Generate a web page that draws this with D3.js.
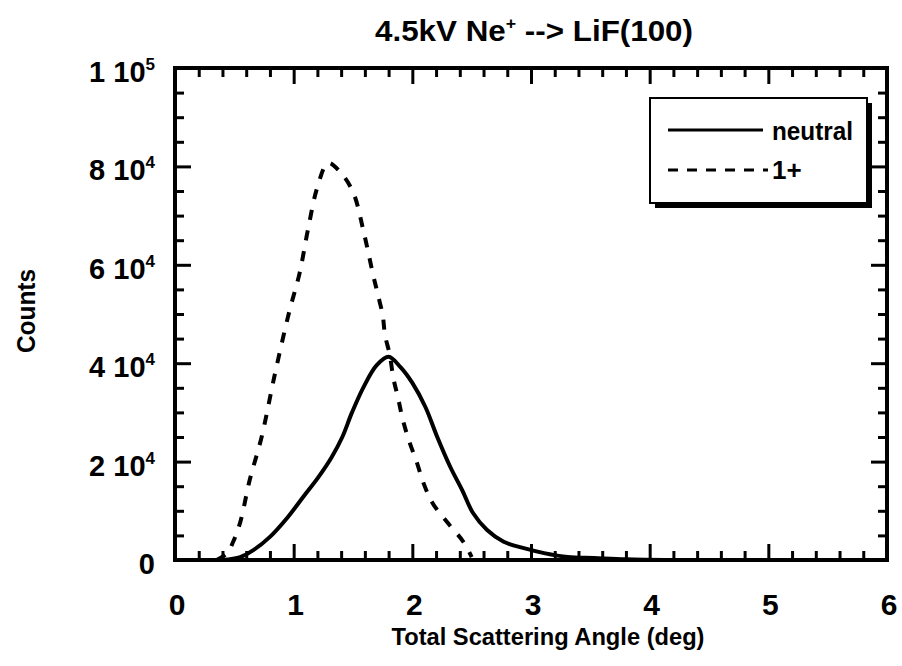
<!DOCTYPE html>
<html>
<head>
<meta charset="utf-8">
<script src="https://cdn.jsdelivr.net/npm/d3@7"></script>
<style>
  html, body { margin: 0; padding: 0; background: #fff; }
  svg { display: block; }
  text { font-family: "Liberation Sans Narrow", "Liberation Sans", Arial, sans-serif; font-weight: bold; fill: #000; }
</style>
</head>
<body>
<svg id="chart" width="902" height="666"></svg>
<script>
// Total scattering angle (deg) vs counts, 4.5 kV Ne+ on LiF(100)
const neutralAngle = [0.40, 0.55, 0.66, 0.80, 0.95, 1.08, 1.21, 1.32, 1.41, 1.49, 1.59, 1.70, 1.80,
                      1.90, 2.00, 2.11, 2.21, 2.32, 2.42, 2.51, 2.63, 2.77, 2.94, 3.11, 3.31, 3.53, 3.80, 4.20];
const neutralCounts = [0, 600, 2000, 4700, 8700, 12800, 16900, 20900, 25000, 29900, 35200, 39600, 41300,
                       39200, 36000, 31100, 25000, 18900, 14200, 9600, 6100, 3700, 2400, 1400, 600, 400, 150, 0];

const ionAngle = [0.35, 0.44, 0.49, 0.55, 0.63, 0.73, 0.84, 0.96, 1.05, 1.12, 1.20, 1.29, 1.39, 1.50,
                  1.59, 1.67, 1.71, 1.75, 1.77, 1.81, 1.84, 1.88, 1.92, 1.97, 2.04, 2.09, 2.17, 2.30, 2.43, 2.50];
const ionCounts = [0, 1400, 3700, 7700, 16300, 25000, 37600, 50200, 58300, 67100, 75800, 80700, 78900, 74800,
                   66700, 57900, 53900, 49800, 45700, 41700, 37000, 32900, 28500, 24400, 19700, 15900, 11600, 7500, 3700, 600];

const xTicks = [0, 1, 2, 3, 4, 5, 6];
const yTicks = [0, 20000, 40000, 60000, 80000, 100000];
const yTickMantissa = ["0", "2 10", "4 10", "6 10", "8 10", "1 10"];
const yTickExponent = ["", "4", "4", "4", "4", "5"];

const seriesNames = ["neutral", "1+"];
const titleMain = "4.5kV Ne";
const titleSup = "+";
const titleRest = " --> LiF(100)";
const xTitle = "Total Scattering Angle (deg)";
const yTitle = "Counts";

const svg = d3.select("#chart");
const plotLeft = 175, plotRight = 887, plotTop = 68, plotBottom = 560;

const x = d3.scaleLinear().domain([0, 6]).range([plotLeft, plotRight]);
const y = d3.scaleLinear().domain([0, 100000]).range([plotBottom, plotTop]);

const minorX = d3.range(0, 6.0001, 0.2).filter(v => Math.abs(v - Math.round(v)) > 1e-6);
const minorY = d3.range(0, 100001, 5000).filter(v => v % 20000 !== 0);

const majorLen = 16, minorLen = 9;

function styleAxis(g) {
  g.select(".domain").remove();
  g.selectAll(".tick line").attr("stroke", "#000").attr("stroke-width", 3);
  g.selectAll(".tick text").remove();
}

// inward ticks on all four sides
[[d3.axisBottom, x, plotBottom, minorX, xTicks, "x"],
 [d3.axisTop, x, plotTop, minorX, xTicks, "x"],
 [d3.axisLeft, y, plotLeft, minorY, yTicks, "y"],
 [d3.axisRight, y, plotRight, minorY, yTicks, "y"]].forEach(([fn, sc, pos, minor, major, dim]) => {
  const tr = dim === "x" ? `translate(0,${pos})` : `translate(${pos},0)`;
  svg.append("g").attr("transform", tr)
    .call(fn(sc).tickValues(minor).tickSize(-minorLen).tickFormat(""))
    .call(styleAxis);
  svg.append("g").attr("transform", tr)
    .call(fn(sc).tickValues(major).tickSize(-majorLen).tickFormat(""))
    .call(styleAxis);
});

// frame
svg.append("rect")
  .attr("x", plotLeft).attr("y", plotTop)
  .attr("width", plotRight - plotLeft).attr("height", plotBottom - plotTop)
  .attr("fill", "none").attr("stroke", "#000").attr("stroke-width", 4);

// curves
const line = d3.line().x(d => x(d[0])).y(d => y(Math.max(0, d[1])))
  .curve(d3.curveCatmullRom.alpha(0.5));
const neutralData = neutralAngle.map((a, i) => [a, neutralCounts[i]]);
const ionData = ionAngle.map((a, i) => [a, ionCounts[i]]);

svg.append("path").datum(neutralData).attr("d", line)
  .attr("fill", "none").attr("stroke", "#000").attr("stroke-width", 4)
  .attr("stroke-linejoin", "round");
svg.append("path").datum(ionData).attr("d", line)
  .attr("fill", "none").attr("stroke", "#000").attr("stroke-width", 4)
  .attr("stroke-dasharray", "10,11");

// x tick labels
svg.append("g").selectAll("text").data(xTicks).join("text")
  .attr("x", d => x(d) + 2).attr("y", 615)
  .attr("text-anchor", "middle").attr("font-size", 30)
  .text(d => d);

// y tick labels with powers of ten
const yl = svg.append("g").selectAll("text").data(yTicks).join("text")
  .attr("x", 155).attr("y", d => y(d) + 14)
  .attr("text-anchor", "end").attr("font-size", 29);
yl.append("tspan").text((d, i) => yTickMantissa[i]);
yl.append("tspan").attr("dy", -12).attr("font-size", 17).text((d, i) => yTickExponent[i]);

// title
const t = svg.append("text").attr("x", 534).attr("y", 41)
  .attr("text-anchor", "middle").attr("font-size", 30)
  .attr("textLength", 318).attr("lengthAdjust", "spacingAndGlyphs");
t.append("tspan").text(titleMain);
t.append("tspan").attr("dy", -12).attr("font-size", 17).text(titleSup);
t.append("tspan").attr("dy", 12).text(titleRest);

// axis titles
svg.append("text").attr("x", 548).attr("y", 645)
  .attr("text-anchor", "middle").attr("font-size", 24)
  .attr("textLength", 313).attr("lengthAdjust", "spacingAndGlyphs")
  .text(xTitle);
svg.append("text").attr("transform", "translate(35,311) rotate(-90)")
  .attr("text-anchor", "middle").attr("font-size", 26)
  .attr("textLength", 84).attr("lengthAdjust", "spacingAndGlyphs")
  .text(yTitle);

// legend with drop shadow
const lg = svg.append("g");
lg.append("rect").attr("x", 655).attr("y", 103).attr("width", 217).attr("height", 105).attr("fill", "#000");
lg.append("rect").attr("x", 650).attr("y", 98).attr("width", 217).attr("height", 105)
  .attr("fill", "#fff").attr("stroke", "#000").attr("stroke-width", 2);
lg.append("line").attr("x1", 668).attr("x2", 763).attr("y1", 130).attr("y2", 130)
  .attr("stroke", "#000").attr("stroke-width", 3);
lg.append("line").attr("x1", 668).attr("x2", 768).attr("y1", 170).attr("y2", 170)
  .attr("stroke", "#000").attr("stroke-width", 3).attr("stroke-dasharray", "10,9");
lg.append("text").attr("x", 772).attr("y", 140).attr("font-size", 26)
  .attr("textLength", 81).attr("lengthAdjust", "spacingAndGlyphs").text(seriesNames[0]);
lg.append("text").attr("x", 772).attr("y", 179).attr("font-size", 26).text(seriesNames[1]);
</script>
</body>
</html>
